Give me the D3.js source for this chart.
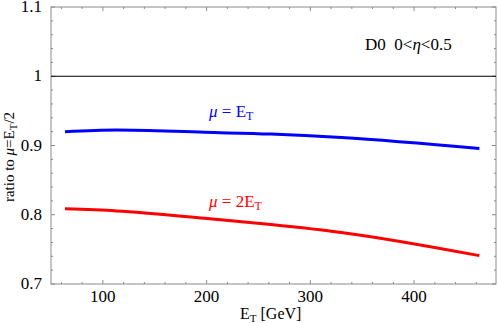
<!DOCTYPE html>
<html><head><meta charset="utf-8">
<script src="https://cdn.jsdelivr.net/npm/d3@7"></script>
<style>body{margin:0;background:#fff}svg{display:block;font-family:"Liberation Serif","Times New Roman",serif}</style>
</head><body><svg id="c" width="498" height="323"></svg>
<script>
const etValues = [63.5, 113, 198, 262, 330, 463];
const ratioMuET = [0.920, 0.9225, 0.919, 0.9165, 0.9115, 0.8955];
const ratioMu2ET = [0.8085, 0.8055, 0.795, 0.786, 0.7745, 0.741];
const xTicks = [100, 200, 300, 400];
const yTicks = [0.7, 0.8, 0.9, 1, 1.1];

const svg = d3.select("#c");
const L = 51, R = 496, T = 7, B = 284;
const x = d3.scaleLinear().domain([50, 479]).range([L, R]);
const y = d3.scaleLinear().domain([0.7, 1.1]).range([B, T]);
const axisCol = "#8a8a8a";

// frame
svg.append("rect").attr("x", L).attr("y", T).attr("width", R - L).attr("height", B - T)
  .attr("fill", "none").attr("stroke", axisCol).attr("stroke-width", 1);

// ticks
const xMinor = d3.range(60, 479, 20).filter(v => v % 100 !== 0);
const yMinor = d3.range(0.72, 1.1, 0.02).filter(v => Math.abs(v * 10 - Math.round(v * 10)) > 1e-6);
const tg = svg.append("g").attr("stroke", axisCol).attr("stroke-width", 1);
function xt(v, len) {
  tg.append("line").attr("x1", x(v)).attr("x2", x(v)).attr("y1", B).attr("y2", B - len);
  tg.append("line").attr("x1", x(v)).attr("x2", x(v)).attr("y1", T).attr("y2", T + len);
}
function yt(v, len) {
  tg.append("line").attr("y1", y(v)).attr("y2", y(v)).attr("x1", L).attr("x2", L + len);
  tg.append("line").attr("y1", y(v)).attr("y2", y(v)).attr("x1", R).attr("x2", R - len);
}
xTicks.forEach(v => xt(v, 4));
xMinor.forEach(v => xt(v, 2));
yTicks.forEach(v => yt(v, 4));
yMinor.forEach(v => yt(v, 2));

// tick labels
svg.append("g").selectAll("text").data(xTicks).join("text")
  .attr("x", d => x(d)).attr("y", 302).attr("text-anchor", "middle")
  .attr("font-size", 17).text(d => d);
svg.append("g").selectAll("text").data(yTicks).join("text")
  .attr("x", 42).attr("y", d => y(d) + 5).attr("text-anchor", "end")
  .attr("font-size", 17).text(d => d);

// reference line at 1
svg.append("line").attr("x1", L).attr("x2", R).attr("y1", y(1)).attr("y2", y(1))
  .attr("stroke", "#000").attr("stroke-width", 1);

// curves
const line = d3.line().x((d, i) => x(etValues[i])).y(d => y(d)).curve(d3.curveMonotoneX);
svg.append("path").datum(ratioMuET).attr("d", line).attr("fill", "none")
  .attr("stroke", "#0000ff").attr("stroke-width", 3);
svg.append("path").datum(ratioMu2ET).attr("d", line).attr("fill", "none")
  .attr("stroke", "#ff0000").attr("stroke-width", 3);

// curve labels
const t1 = svg.append("text").attr("x", 209).attr("y", 117).attr("font-size", 17).attr("fill", "#0000ff");
t1.append("tspan").attr("font-style", "italic").text("μ");
t1.append("tspan").text(" = E");
t1.append("tspan").attr("font-size", 12).attr("dy", 3).text("T");
const t2 = svg.append("text").attr("x", 209).attr("y", 207).attr("font-size", 17).attr("fill", "#ff0000");
t2.append("tspan").attr("font-style", "italic").text("μ");
t2.append("tspan").text(" = 2E");
t2.append("tspan").attr("font-size", 12).attr("dy", 3).text("T");

// D0 label
const t3 = svg.append("text").attr("x", 365).attr("y", 50).attr("font-size", 17).attr("fill", "#000")
  .attr("xml:space", "preserve").style("white-space", "pre");
t3.append("tspan").text("D0  0<");
t3.append("tspan").attr("font-style", "italic").text("η");
t3.append("tspan").text("<0.5");

// x axis title
const xl = svg.append("text").attr("x", 240).attr("y", 319).attr("font-size", 16);
xl.append("tspan").text("E");
xl.append("tspan").attr("font-size", 11).attr("dy", 3).text("T");
xl.append("tspan").attr("dy", -3).text(" [GeV]");

// y axis title
const yl = svg.append("text").attr("transform", "translate(14,157) rotate(-90)")
  .attr("text-anchor", "middle").attr("font-size", 15);
yl.append("tspan").text("ratio to ");
yl.append("tspan").attr("font-style", "italic").text("μ");
yl.append("tspan").text("=E");
yl.append("tspan").attr("font-size", 11).attr("dy", 3).text("T");
yl.append("tspan").attr("dy", -3).text("/2");
</script></body></html>
